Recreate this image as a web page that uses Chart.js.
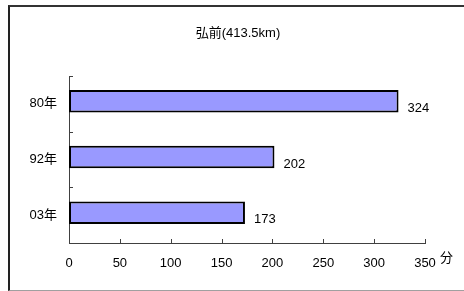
<!DOCTYPE html>
<html><head><meta charset="utf-8">
<script src="https://cdn.jsdelivr.net/npm/chart.js@4/dist/chart.umd.min.js"></script>
<style>
html,body{margin:0;padding:0;background:#fff;}
#wrap{position:relative;width:464px;height:291px;overflow:hidden;}
#frame{position:absolute;left:8px;top:5px;width:500px;height:283px;border-top:2px solid #333;border-left:2px solid #222;border-bottom:1px solid #a0a0a0;}
canvas{position:absolute;left:0;top:0;}
</style></head>
<body>
<div id="wrap"><div id="frame"></div><canvas id="c" width="464" height="291"></canvas></div>
<script>
const titleText = '弘前(413.5km)';
const categories = ['80年', '92年', '03年'];
const values = [324, 202, 173];
const unitLabel = '分';
const xMin = 0, xMax = 350, xStep = 50;

const FONT = '"Liberation Sans", Arial, "Noto Sans CJK JP", sans-serif';
const BAR_SHIFT = -2.5; // bars sit slightly above the category centre in the original

const barShift = {
  id: 'barShift',
  afterDatasetsUpdate(chart) {
    chart.getDatasetMeta(0).data.forEach(el => { el.y += BAR_SHIFT; });
  }
};

const innerTicks = {
  id: 'innerTicks',
  afterDraw(chart) {
    const ctx = chart.ctx;
    const xs = chart.scales.x, ys = chart.scales.y;
    ctx.save();
    ctx.strokeStyle = '#404040';
    ctx.lineWidth = 1;
    ctx.beginPath();
    for (let v = xMin; v <= xMax; v += xStep) {
      const px = Math.round(xs.getPixelForValue(v)) + 0.5;
      ctx.moveTo(px, ys.bottom);
      ctx.lineTo(px, ys.bottom - 4);
    }
    for (let i = 0; i <= categories.length; i++) {
      const py = Math.round(ys.getPixelForValue(i - 0.5)) + 0.5;
      ctx.moveTo(xs.left, py);
      ctx.lineTo(xs.left + 4, py);
    }
    ctx.stroke();
    ctx.fillStyle = '#000';
    ctx.font = '13px ' + FONT;
    ctx.textAlign = 'left';
    ctx.textBaseline = 'middle';
    const meta = chart.getDatasetMeta(0);
    meta.data.forEach((bar, i) => {
      ctx.fillText(String(values[i]), bar.x + 9, bar.y + 7);
    });
    ctx.textAlign = 'center';
    ctx.fillText(unitLabel, xs.right + 21.5, ys.bottom + 15);
    ctx.restore();
  }
};

new Chart(document.getElementById('c'), {
  type: 'bar',
  data: {
    labels: categories,
    datasets: [{
      data: values,
      backgroundColor: '#9999FF',
      borderColor: '#000000',
      borderWidth: 2,
      borderSkipped: false,
      barPercentage: 0.405,
      categoryPercentage: 1.0
    }]
  },
  options: {
    indexAxis: 'y',
    responsive: false,
    animation: false,
    devicePixelRatio: 1,
    layout: { padding: { left: 12, right: 0, top: 0, bottom: 0 } },
    plugins: {
      legend: { display: false },
      tooltip: { enabled: false },
      title: {
        display: true,
        text: titleText,
        color: '#000',
        font: { family: FONT, size: 13, weight: 'normal', lineHeight: 1.2 },
        padding: { top: 26, bottom: 34.4 }
      }
    },
    scales: {
      x: {
        min: xMin, max: xMax,
        ticks: { stepSize: xStep, color: '#000', font: { family: FONT, size: 13 }, padding: 13, maxRotation: 0 },
        grid: { display: false, drawTicks: false },
        border: { display: true, color: '#404040', width: 1 },
        afterFit(s) { s.height = 48; s.paddingRight = 39; }
      },
      y: {
        ticks: { color: '#000', font: { family: FONT, size: 13 }, padding: 12 },
        grid: { display: false, drawTicks: false },
        border: { display: true, color: '#404040', width: 1 },
        afterFit(s) { s.width = 57; }
      }
    }
  },
  plugins: [barShift, innerTicks]
});
</script>
</body></html>
